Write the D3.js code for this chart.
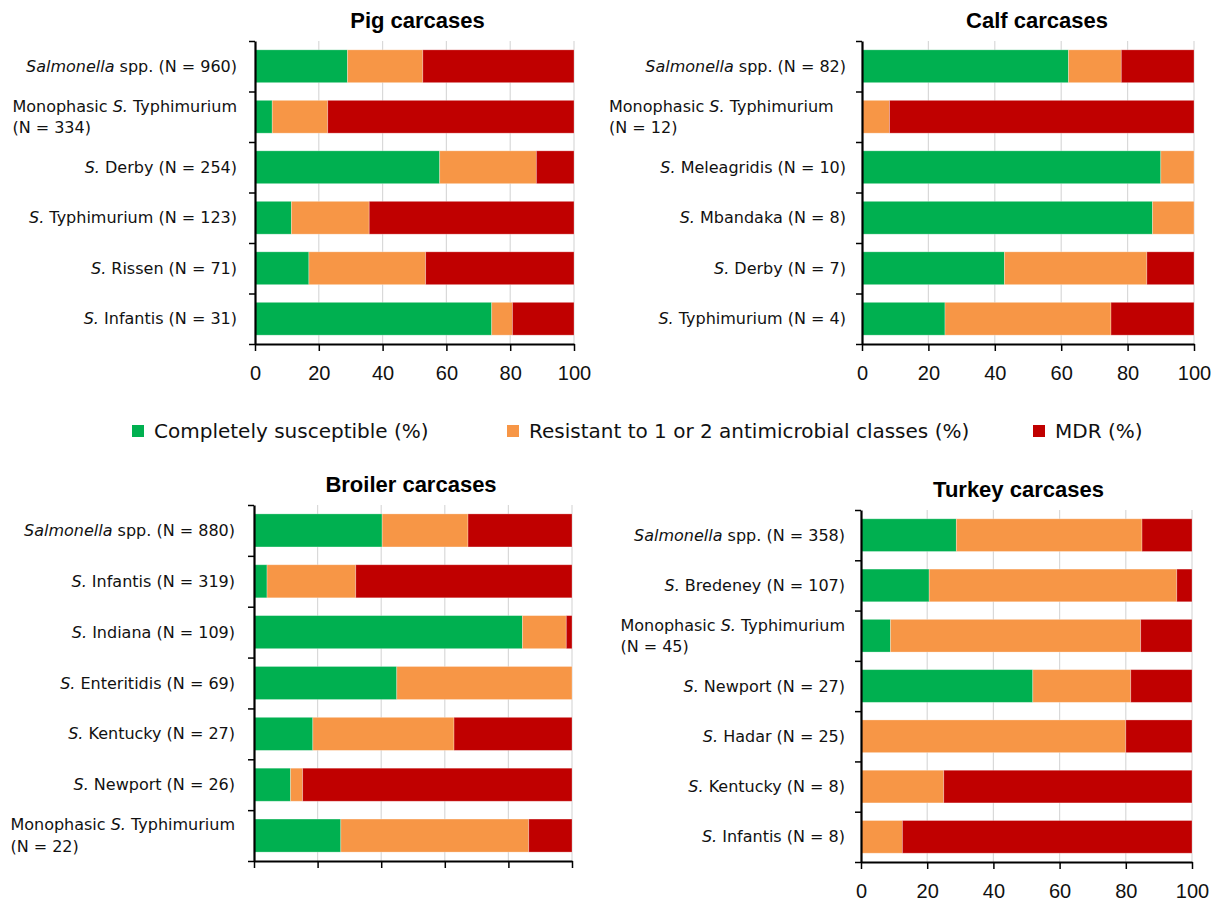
<!DOCTYPE html>
<html>
<head>
<meta charset="utf-8">
<script src="https://cdn.jsdelivr.net/npm/d3@7"></script>
<style>
  body { margin: 0; background: #fff; }
  svg { display: block; }
</style>
</head>
<body>
<div id="chart"></div>
<script>
// series names / colours (legend)
const seriesNames = ["Completely susceptible (%)", "Resistant to 1 or 2 antimicrobial classes (%)", "MDR (%)"];
const seriesColors = ["#00B050", "#F79646", "#C00000"];
const xTicks = [0, 20, 40, 60, 80, 100];

// labels: _text_ = italic, \n = line break
const pigLabels = ["_Salmonella_ spp. (N = 960)", "Monophasic _S._ Typhimurium\n(N = 334)", "_S._ Derby (N = 254)",
  "_S._ Typhimurium (N = 123)", "_S._ Rissen (N = 71)", "_S._ Infantis (N = 31)"];
const pigSusceptible = [29.0, 5.4, 57.9, 11.4, 16.9, 74.2];
const pigResistant   = [23.6, 17.4, 30.3, 24.4, 36.6, 6.5];
const pigMDR         = [47.4, 77.2, 11.8, 64.2, 46.5, 19.3];

const calfLabels = ["_Salmonella_ spp. (N = 82)", "Monophasic _S._ Typhimurium\n(N = 12)", "_S._ Meleagridis (N = 10)",
  "_S._ Mbandaka (N = 8)", "_S._ Derby (N = 7)", "_S._ Typhimurium (N = 4)"];
const calfSusceptible = [62.2, 0, 90, 87.5, 42.9, 25];
const calfResistant   = [15.9, 8.3, 10, 12.5, 42.9, 50];
const calfMDR         = [21.9, 91.7, 0, 0, 14.2, 25];

const broilerLabels = ["_Salmonella_ spp. (N = 880)", "_S._ Infantis (N = 319)", "_S._ Indiana (N = 109)",
  "_S._ Enteritidis (N = 69)", "_S._ Kentucky (N = 27)", "_S._ Newport (N = 26)", "Monophasic _S._ Typhimurium\n(N = 22)"];
const broilerSusceptible = [40.3, 4.1, 84.4, 44.9, 18.5, 11.5, 27.3];
const broilerResistant   = [27.0, 27.9, 13.8, 55.1, 44.4, 3.8, 59.1];
const broilerMDR         = [32.7, 68.0, 1.8, 0, 37.1, 84.7, 13.6];

const turkeyLabels = ["_Salmonella_ spp. (N = 358)", "_S._ Bredeney (N = 107)", "Monophasic _S._ Typhimurium\n(N = 45)",
  "_S._ Newport (N = 27)", "_S._ Hadar (N = 25)", "_S._ Kentucky (N = 8)", "_S._ Infantis (N = 8)"];
const turkeySusceptible = [28.8, 20.6, 8.9, 51.9, 0, 0, 0];
const turkeyResistant   = [56.1, 74.8, 75.6, 29.6, 80, 25, 12.5];
const turkeyMDR         = [15.1, 4.6, 15.5, 18.5, 20, 75, 87.5];

// panel layout
const panels = [
  { title: "Pig carcases", labels: pigLabels, values: [pigSusceptible, pigResistant, pigMDR],
    x0: 255, x1: 574, top: 41, bottom: 344, labelRight: 237, titleDx: 3, tickText: true },
  { title: "Calf carcases", labels: calfLabels, values: [calfSusceptible, calfResistant, calfMDR],
    x0: 862, x1: 1194, top: 41, bottom: 344, labelRight: 846, titleDx: 9, tickText: true, wrapX: 609 },
  { title: "Broiler carcases", labels: broilerLabels, values: [broilerSusceptible, broilerResistant, broilerMDR],
    x0: 254, x1: 572, top: 505, bottom: 861, labelRight: 235, titleDx: -2, tickText: false },
  { title: "Turkey carcases", labels: turkeyLabels, values: [turkeySusceptible, turkeyResistant, turkeyMDR],
    x0: 861, x1: 1192, top: 510, bottom: 862, labelRight: 845, titleDx: -8, tickText: true }
];

const labelFont = "'DejaVu Sans', Verdana, sans-serif";

const svg = d3.select("#chart").append("svg")
  .attr("width", 1222)
  .attr("height", 901);

// writes "a _b_ c" into a text element, italic for the _ parts
function richText(sel, str) {
  str.split("_").forEach(function(part, i) {
    if (part === "") return;
    sel.append("tspan")
      .style("font-style", i % 2 ? "italic" : "normal")
      .text(part);
  });
}

panels.forEach(function(p) {
  const rows = p.labels.map(function(l, i) {
    return { label: l, v: p.values.map(function(s) { return s[i]; }) };
  });
  const stacked = d3.stack()
    .keys([0, 1, 2])
    .value(function(d, k) { return d.v[k]; })(rows);

  const x = d3.scaleLinear().domain([0, 100]).range([p.x0, p.x1]);
  const y = d3.scaleBand().domain(d3.range(rows.length)).range([p.top, p.bottom]).paddingInner(0.35).paddingOuter(0.175);
  const yEdges = d3.scaleLinear().domain([0, rows.length]).range([p.top, p.bottom]);

  const g = svg.append("g");

  // gridlines
  g.selectAll(".grid")
    .data(xTicks.filter(function(t) { return t > 0; }))
    .enter().append("line")
    .attr("x1", function(d) { return x(d); })
    .attr("x2", function(d) { return x(d); })
    .attr("y1", p.top)
    .attr("y2", p.bottom)
    .attr("stroke", "#d9d9d9")
    .attr("stroke-width", 1.2);

  // bars
  g.selectAll(".series")
    .data(stacked)
    .enter().append("g")
    .attr("fill", function(d) { return seriesColors[d.key]; })
    .selectAll("rect")
    .data(function(d) { return d; })
    .enter().append("rect")
    .attr("x", function(d) { return x(d[0]); })
    .attr("width", function(d) { return Math.max(0, x(d[1]) - x(d[0])); })
    .attr("y", function(d, i) { return y(i); })
    .attr("height", y.bandwidth())
    .attr("stroke", "rgba(255,255,255,0.35)")
    .attr("stroke-width", 0.8);

  // x axis
  const xAxis = d3.axisBottom(x)
    .tickValues(xTicks)
    .tickSize(7)
    .tickSizeOuter(0)
    .tickPadding(15)
    .tickFormat(p.tickText ? d3.format("d") : function() { return ""; });
  const ax = g.append("g")
    .attr("transform", "translate(0," + p.bottom + ")")
    .call(xAxis);
  ax.select(".domain").attr("stroke", "#000").attr("stroke-width", 2.2);
  ax.selectAll(".tick line").attr("stroke", "#000").attr("stroke-width", 1.5);
  ax.selectAll(".tick text")
    .attr("fill", "#111")
    .style("font-family", "'Liberation Sans', Arial, sans-serif")
    .style("font-size", "20px");

  // y axis (category boundaries)
  const yAxis = d3.axisLeft(yEdges)
    .tickValues(d3.range(rows.length + 1))
    .tickSize(6)
    .tickSizeOuter(0)
    .tickFormat("");
  const ay = g.append("g")
    .attr("transform", "translate(" + p.x0 + ",0)")
    .call(yAxis);
  ay.select(".domain").attr("stroke", "#000").attr("stroke-width", 2.2);
  ay.selectAll(".tick line").attr("stroke", "#000").attr("stroke-width", 1.5);

  // category labels
  rows.forEach(function(r, i) {
    const cy = y(i) + y.bandwidth() / 2;
    const lines = r.label.split("\n");
    if (lines.length === 1) {
      const t = g.append("text")
        .attr("x", p.labelRight)
        .attr("y", cy)
        .attr("dy", "0.35em")
        .attr("text-anchor", "end")
        .style("font-family", labelFont)
        .style("font-size", "16px")
        .attr("fill", "#111");
      richText(t, lines[0]);
    } else {
      // wrapped label: both lines left aligned
      const t1 = g.append("text")
        .attr("y", cy - 10.75)
        .attr("dy", "0.35em")
        .style("font-family", labelFont)
        .style("font-size", "16px")
        .attr("fill", "#111");
      richText(t1, lines[0]);
      const w = t1.node().getComputedTextLength();
      const lx = p.wrapX !== undefined ? p.wrapX : p.labelRight - w;
      t1.attr("x", lx);
      const t2 = g.append("text")
        .attr("x", lx)
        .attr("y", cy + 10.75)
        .attr("dy", "0.35em")
        .style("font-family", labelFont)
        .style("font-size", "16px")
        .attr("fill", "#111");
      richText(t2, lines[1]);
    }
  });

  // title
  g.append("text")
    .attr("x", (p.x0 + p.x1) / 2 + p.titleDx)
    .attr("y", p.top - 13)
    .attr("text-anchor", "middle")
    .style("font-family", "'Liberation Sans', Arial, sans-serif")
    .style("font-weight", "bold")
    .style("font-size", "22px")
    .attr("fill", "#000")
    .text(p.title);
});

// legend
const legendX = [132, 507, 1033];
const legend = svg.append("g").selectAll("g")
  .data(seriesNames)
  .enter().append("g")
  .attr("transform", function(d, i) { return "translate(" + legendX[i] + ",431)"; });

legend.append("rect")
  .attr("x", 0)
  .attr("y", -6)
  .attr("width", 12)
  .attr("height", 12)
  .attr("fill", function(d, i) { return seriesColors[i]; });

legend.append("text")
  .attr("x", 22)
  .attr("y", 0)
  .attr("dy", "0.35em")
  .style("font-family", labelFont)
  .style("font-size", "20px")
  .attr("fill", "#111")
  .text(function(d) { return d; });
</script>
</body>
</html>
